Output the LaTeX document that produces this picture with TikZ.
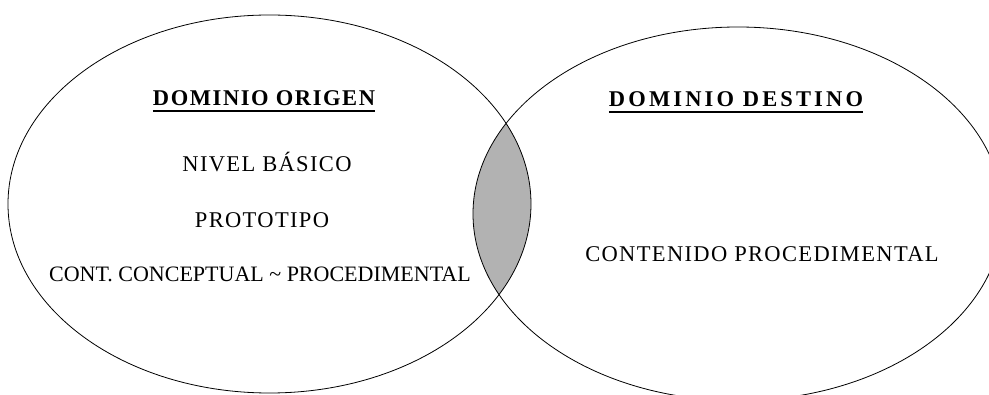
\documentclass[tikz,border=0pt]{standalone}
\usepackage{fontspec}
\setmainfont{Liberation Serif}
\newfontfamily\txtfont[LetterSpace=6]{Liberation Serif}
\newfontfamily\orifont[LetterSpace=7]{Liberation Serif}
\newfontfamily\desfont[LetterSpace=14]{Liberation Serif}
\begin{document}
\begin{tikzpicture}[x=1pt,y=1pt,
    domline/.style={draw,line width=0.8pt},
    bodytxt/.style={inner sep=0pt,anchor=base,font=\fontsize{22.5}{24}\txtfont},
    headtxt/.style={inner sep=0pt,anchor=base}]
      \useasboundingbox (0,0) rectangle (989,394);
      \clip (0,0) rectangle (989,394);
      % shared zone
      \begin{scope}
        \clip (269.5,190) ellipse [x radius=261.5, y radius=189];
        \fill[gray!60] (738,180.2) ellipse [x radius=265, y radius=186.8];
      \end{scope}
      \draw[domline] (269.5,190) ellipse [x radius=261.5, y radius=189];
      \draw[domline] (738,180.2) ellipse [x radius=265, y radius=186.8];
      \draw
        (264,288) node[headtxt,font=\fontsize{22.5}{24}\orifont\bfseries] (ori){DOMINIO ORIGEN}
        (736,287) node[headtxt,font=\fontsize{22.5}{24}\desfont\bfseries] (des){DOMINIO DESTINO}
        (267,222) node[bodytxt] (niv){NIVEL BÁSICO}
        (262,166) node[bodytxt] (pro){PROTOTIPO}
        (260,112) node[bodytxt,font=\fontsize{22}{24}\selectfont] (con){CONT. CONCEPTUAL \textasciitilde\ PROCEDIMENTAL}
        (762,132) node[bodytxt] (cpr){CONTENIDO PROCEDIMENTAL};
      \begin{scope}[line width=2pt]
        \draw ([yshift=-5pt]ori.base west) -- ([yshift=-5pt]ori.base east);
        \draw ([yshift=-5pt]des.base west) -- ([yshift=-5pt]des.base east);
      \end{scope}
    \end{tikzpicture}
\end{document}
